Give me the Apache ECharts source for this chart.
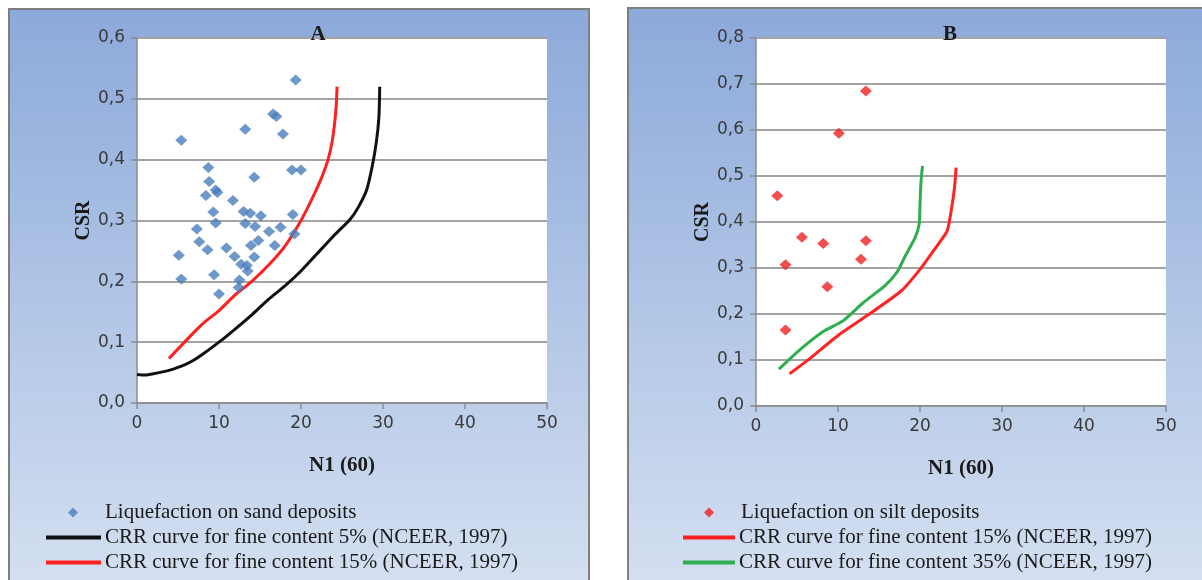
<!DOCTYPE html>
<html>
<head>
<meta charset="utf-8">
<script src="https://cdn.jsdelivr.net/npm/echarts@6/dist/echarts.min.js"></script>
<style>
html,body{margin:0;padding:0;background:#fff;}
#c{width:1202px;height:580px;}
</style>
</head>
<body>
<div id="c"></div>
<script>
// ---- Panel A data ----
const sandN   = [19.35,16.6,17.0,13.2,17.8,5.4,8.7,18.9,20.0,14.3,8.8,9.6,9.8,8.4,11.7,13.0,13.8,15.1,9.3,19.0,9.6,13.2,14.4,17.5,7.3,16.1,19.2,14.8,7.6,16.8,13.9,10.9,8.6,5.1,11.9,14.3,12.7,13.4,13.5,5.4,9.4,12.5,12.4,10.0];
const sandCSR = [0.531,0.475,0.471,0.450,0.442,0.432,0.387,0.383,0.383,0.371,0.364,0.350,0.346,0.341,0.333,0.315,0.312,0.308,0.314,0.310,0.296,0.295,0.290,0.289,0.286,0.282,0.278,0.267,0.265,0.259,0.259,0.255,0.252,0.243,0.241,0.240,0.228,0.226,0.217,0.204,0.211,0.202,0.190,0.179];
const crr5N   = [0,1,2,4,6,7,8,10,12,14,16,18,20,22,24,26,27,28,28.7,29.2,29.5,29.6];
const crr5CSR = [0.047,0.046,0.048,0.054,0.064,0.071,0.080,0.100,0.122,0.145,0.170,0.192,0.217,0.246,0.275,0.302,0.322,0.350,0.390,0.430,0.470,0.520];
const crr15aN   = [3.9,6,8,10,12,14,16,18,20,21.5,22.5,23.3,23.8,24.1,24.3,24.4];
const crr15aCSR = [0.073,0.103,0.130,0.152,0.178,0.200,0.226,0.257,0.300,0.340,0.370,0.400,0.430,0.460,0.490,0.520];
// ---- Panel B data ----
const siltN   = [13.4,10.1,2.6,5.6,8.2,13.4,3.6,12.8,8.7,3.6];
const siltCSR = [0.685,0.593,0.457,0.367,0.353,0.359,0.307,0.319,0.259,0.165];
const crr15bN   = [4.1,6.2,10.2,13.5,17.7,20.0,21.9,23.3,23.8,24.2,24.4];
const crr15bCSR = [0.070,0.098,0.156,0.196,0.250,0.297,0.344,0.380,0.424,0.474,0.518];
const crr35N   = [2.8,5.4,8.2,10.6,13.1,15.7,17.2,18.2,19.4,19.9,20.0,20.1,20.3];
const crr35CSR = [0.080,0.123,0.162,0.185,0.225,0.261,0.291,0.326,0.366,0.395,0.438,0.482,0.522];
// ---- labels ----
const titles = ['A','B'];
const xName = 'N1 (60)';
const yName = 'CSR';
const legA = ['Liquefaction on sand deposits','CRR curve for fine content 5% (NCEER, 1997)','CRR curve for fine content 15% (NCEER, 1997)'];
const legB = ['Liquefaction on silt deposits','CRR curve for fine content 15% (NCEER, 1997)','CRR curve for fine content 35% (NCEER, 1997)'];

const zip = (a,b) => a.map((v,i)=>[v,b[i]]);
const serif = 'Liberation Serif';
const sans = 'DejaVu Sans';
const fmt = v => v.toFixed(1).replace('.', ',');

function xAxis(gi){
  return {
    type:'value', gridIndex:gi, min:0, max:50, interval:10,
    name:xName, nameLocation:'middle', nameGap:52,
    nameTextStyle:{fontFamily:serif, fontWeight:'bold', fontSize:21, color:'#1a1a1a'},
    axisLine:{show:true, lineStyle:{color:'#8c8c8c', width:1.5}},
    axisTick:{show:true, length:6, lineStyle:{color:'#8c8c8c', width:1.5}},
    axisLabel:{fontFamily:sans, fontSize:17, color:'#3a3a3a', margin:12},
    splitLine:{show:false}
  };
}
function yAxis(gi, max){
  return {
    type:'value', gridIndex:gi, min:0, max:max, interval:0.1,
    name:yName, nameLocation:'middle', nameGap:40,
    nameTextStyle:{fontFamily:serif, fontWeight:'bold', fontSize:20, color:'#1a1a1a'},
    axisLine:{show:true, lineStyle:{color:'#8c8c8c', width:1.5}},
    axisTick:{show:true, length:6, lineStyle:{color:'#8c8c8c', width:1.5}},
    axisLabel:{fontFamily:sans, fontSize:17, color:'#3a3a3a', margin:12, formatter:fmt},
    splitLine:{show:true, lineStyle:{color:'#a3a3a3', width:2}}
  };
}
const bgGrad = {type:'linear', x:0, y:0, x2:0, y2:1, colorStops:[{offset:0,color:'#8ba9da'},{offset:1,color:'#d5e0f1'}]};
const legText = {fontFamily:serif, fontSize:21, color:'#1a1a1a'};

function scatterLegend(left, name){
  return {orient:'vertical', left:left, top:497, itemWidth:10, itemHeight:10,
    data:[{name:name, icon:'diamond'}], textStyle:Object.assign({padding:[0,0,0,22]}, legText)};
}
function lineLegend(left, w, names){
  return {orient:'vertical', left:left, top:522, itemWidth:w, itemHeight:4, itemGap:4,
    data:names.map(n=>({name:n, icon:'rect'})), textStyle:Object.assign({padding:[0,0,0,-1]}, legText)};
}

const option = {
  animation:false,
  backgroundColor:'#ffffff',
  graphic:[
    {type:'rect', z:-10, shape:{x:9, y:9, width:580, height:580}, style:{fill:bgGrad, stroke:'#7f7f7f', lineWidth:2}},
    {type:'rect', z:-10, shape:{x:628, y:8, width:580, height:580}, style:{fill:bgGrad, stroke:'#7f7f7f', lineWidth:2}}
  ],
  title:[
    {text:titles[0], left:313, top:19, textAlign:'center', textStyle:{fontFamily:serif, fontWeight:'bold', fontSize:21, color:'#1a1a1a'}},
    {text:titles[1], left:945, top:19, textAlign:'center', textStyle:{fontFamily:serif, fontWeight:'bold', fontSize:21, color:'#1a1a1a'}}
  ],
  grid:[
    {left:137, top:38, width:410, height:365, show:true, backgroundColor:'#ffffff', borderWidth:0},
    {left:756, top:38, width:410, height:368, show:true, backgroundColor:'#ffffff', borderWidth:0}
  ],
  xAxis:[xAxis(0), xAxis(1)],
  yAxis:[yAxis(0,0.6), yAxis(1,0.8)],
  legend:[
    scatterLegend(63, legA[0]),
    lineLegend(41, 55, [legA[1], legA[2]]),
    scatterLegend(699, legB[0]),
    lineLegend(678, 52, [legB[1], legB[2]])
  ],
  series:[
    {name:legA[0], type:'scatter', xAxisIndex:0, yAxisIndex:0, symbol:'diamond', symbolSize:[12,11],
     itemStyle:{color:'#4a7ebb'}, data:zip(sandN,sandCSR), z:5},
    {name:legA[1], type:'line', xAxisIndex:0, yAxisIndex:0, showSymbol:false, symbol:'none', smooth:0.25,
     lineStyle:{color:'#111111', width:3}, itemStyle:{color:'#111111'}, data:zip(crr5N,crr5CSR)},
    {name:legA[2], type:'line', xAxisIndex:0, yAxisIndex:0, showSymbol:false, symbol:'none', smooth:0.25,
     lineStyle:{color:'#ff1f1f', width:3}, itemStyle:{color:'#ff1f1f'}, data:zip(crr15aN,crr15aCSR)},
    {name:legB[0], type:'scatter', xAxisIndex:1, yAxisIndex:1, symbol:'diamond', symbolSize:[12,11],
     itemStyle:{color:'#f02020'}, data:zip(siltN,siltCSR), z:5},
    {name:legB[1], type:'line', xAxisIndex:1, yAxisIndex:1, showSymbol:false, symbol:'none', smooth:0.2,
     lineStyle:{color:'#ff2222', width:3}, itemStyle:{color:'#ff2222'}, data:zip(crr15bN,crr15bCSR)},
    {name:legB[2], type:'line', xAxisIndex:1, yAxisIndex:1, showSymbol:false, symbol:'none', smooth:0.2,
     lineStyle:{color:'#2eae4e', width:3}, itemStyle:{color:'#2eae4e'}, data:zip(crr35N,crr35CSR)}
  ]
};
const chart = echarts.init(document.getElementById('c'), null, {renderer:'canvas'});
chart.setOption(option);
</script>
</body>
</html>
